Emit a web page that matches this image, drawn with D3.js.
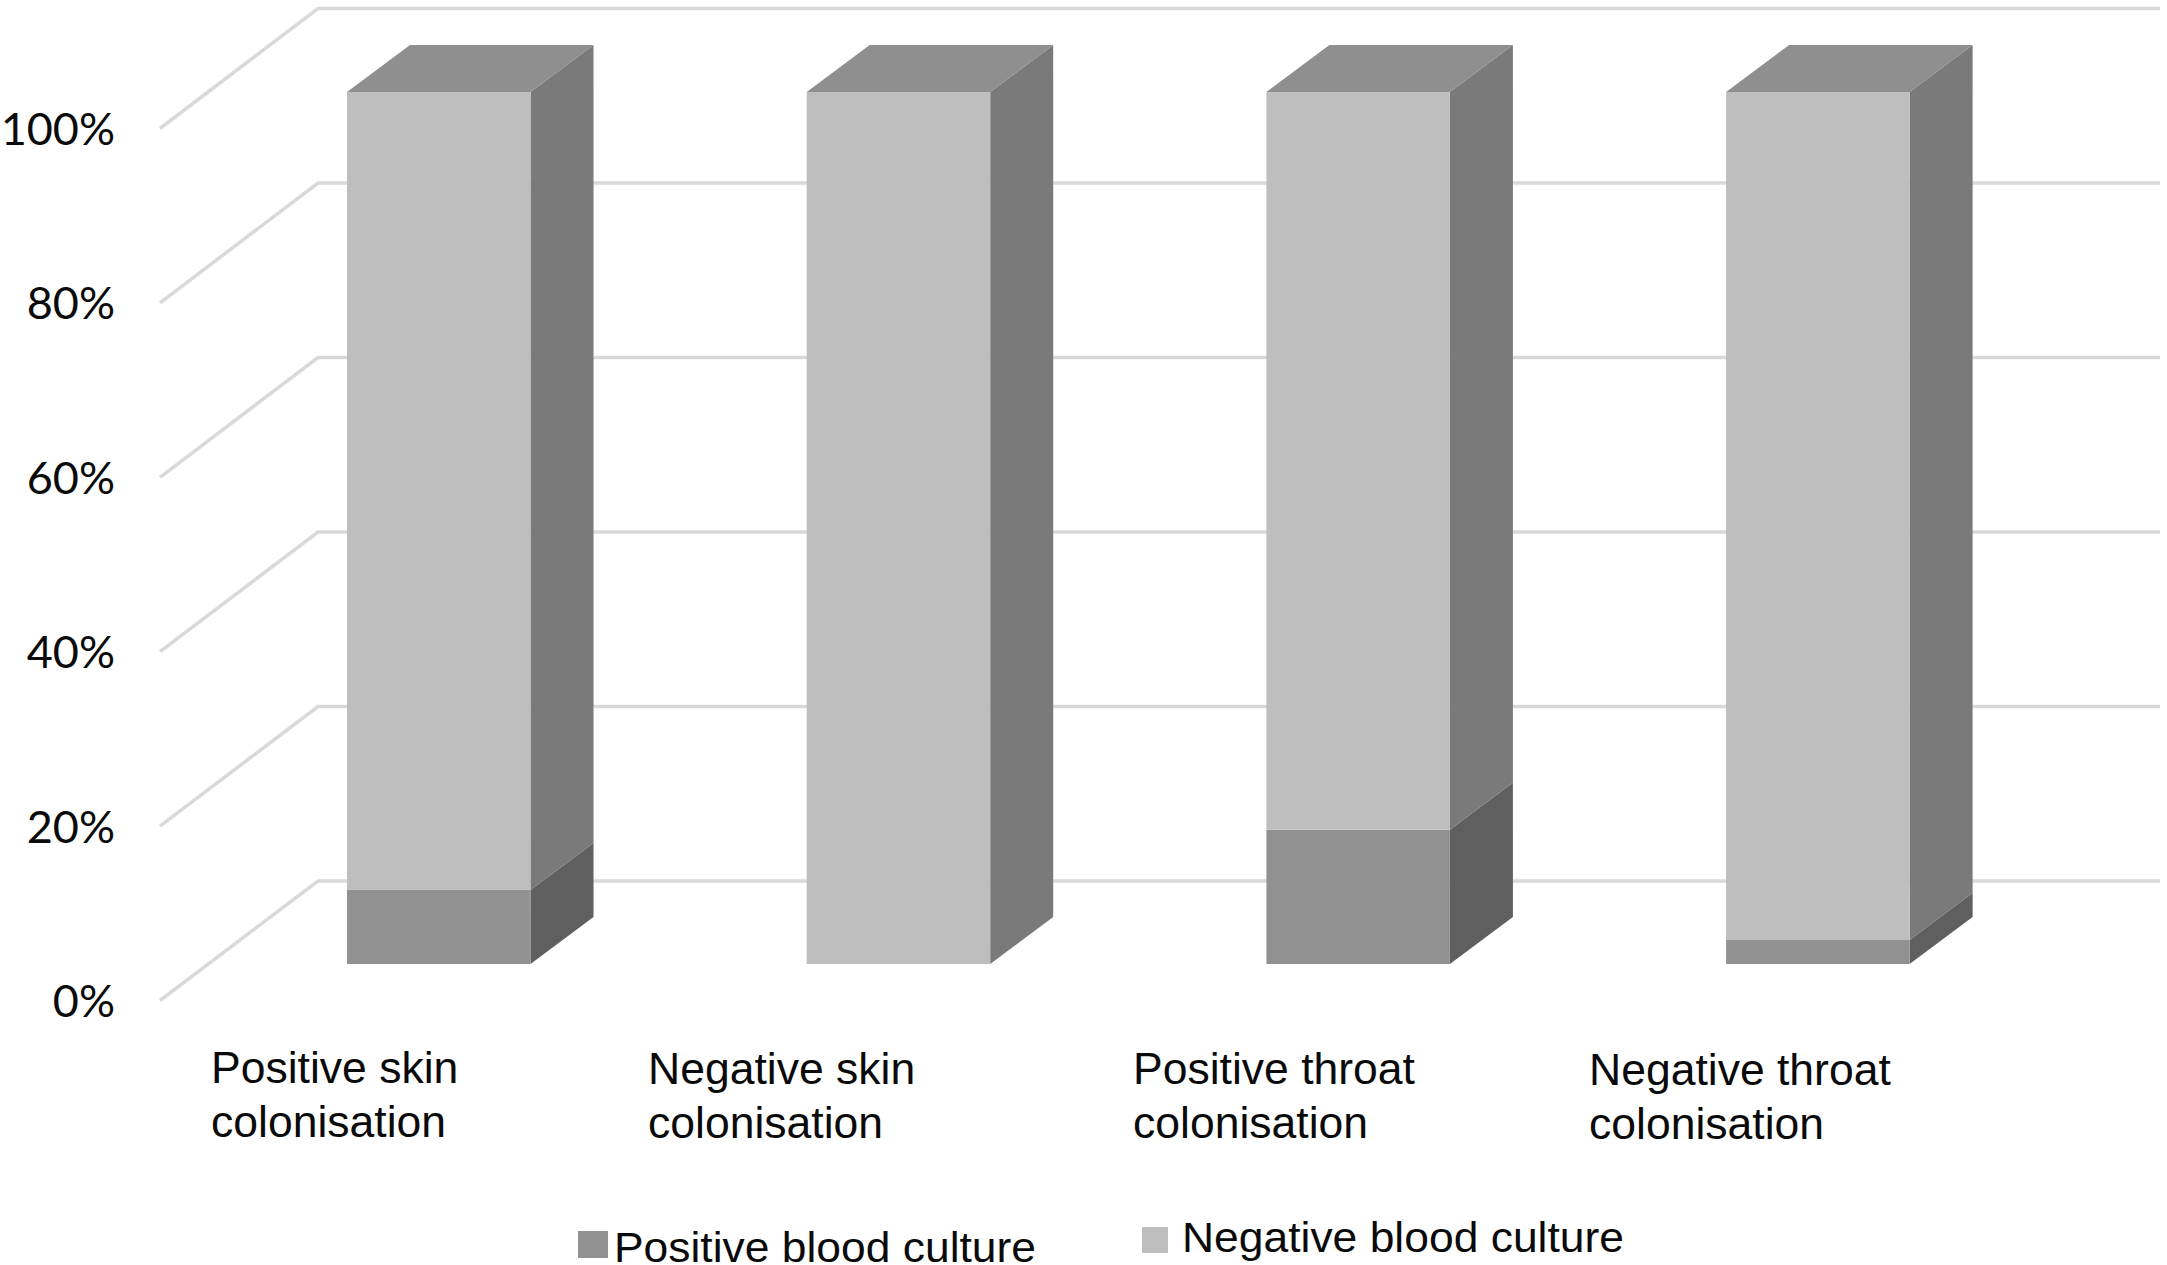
<!DOCTYPE html>
<html><head><meta charset="utf-8">
<script src="https://cdnjs.cloudflare.com/ajax/libs/d3/7.8.5/d3.min.js"></script>
<style>html,body{margin:0;padding:0;background:#fff}svg{display:block}</style></head>
<body><svg id="c" width="2167" height="1265"></svg>
<script>
const categories=["Positive skin colonisation","Negative skin colonisation","Positive throat colonisation","Negative throat colonisation"];
const positive=[8.5,0,15.4,2.75];
const negative=[91.5,100,84.6,97.25];
const ticks=[0,20,40,60,80,100];
const labelLines=[["Positive skin","colonisation"],["Negative skin","colonisation"],["Positive throat","colonisation"],["Negative throat","colonisation"]];
const labelX=[211,648,1133,1589], labelY=[1083,1084,1084,1085];
const W=2167,H=1265;
const svg=d3.select("#c");
svg.append("defs").append("filter").attr("id","soft").append("feGaussianBlur").attr("stdDeviation",0.7);
const root=svg.append("g").attr("filter","url(#soft)");
const depthX=63,depthY=47;
const y=d3.scaleLinear().domain([0,100]).range([964,92]);
const gridFront=d3.scaleLinear().domain([0,100]).range([1000.5,128.5]);
const gridBack=d3.scaleLinear().domain([0,100]).range([881,8.5]);
const x=d3.scaleBand().domain(categories).range([347,1909.6]).paddingInner(0.6008).paddingOuter(0);
const gridCol="#d9d9d9";
const grid=root.append("g");
ticks.forEach(t=>{
  grid.append("path").attr("fill","none").attr("stroke",gridCol).attr("stroke-width",3.5)
    .attr("d",d3.line()([[160,gridFront(t)],[318,gridBack(t)],[2160,gridBack(t)]]));
});
const seriesDefs=[
 {vals:positive,base:()=>0,front:"#919191",side:"#5e5e5e",top:"#7f7f7f"},
 {vals:negative,base:(i)=>positive[i],front:"#bebebe",side:"#7a7a7a",top:"#8f8f8f"}];
categories.forEach((c,i)=>{
  const g=root.append("g"), x0=x(c), x1=x0+x.bandwidth();
  seriesDefs.forEach(s=>{
    const v=s.vals[i]; if(v<=0) return;
    const b=s.base(i), yb=y(b), yt=y(b+v);
    g.append("path").attr("fill",s.side).attr("d",d3.line()([[x1,yb],[x1+depthX,yb-depthY],[x1+depthX,yt-depthY],[x1,yt]]));
    g.append("rect").attr("x",x0).attr("y",yt).attr("width",x.bandwidth()).attr("height",yb-yt).attr("fill",s.front);
    if(b+v>=100) g.append("path").attr("fill",s.top).attr("d",d3.line()([[x0,yt],[x0+depthX,yt-depthY],[x1+depthX,yt-depthY],[x1,yt]]));
  });
});
const tickFont='Lato, "Open Sans", sans-serif';
svg.append("g").selectAll("text").data(ticks).join("text")
  .attr("x",115).attr("y",d=>gridFront(d)+16.5).attr("text-anchor","end")
  .attr("font-family",tickFont).attr("font-size",45).attr("fill","#0a0a0a").text(d=>d+"%");
const sans='"Liberation Sans", Arial, sans-serif';
labelLines.forEach((ls,i)=>{
  ls.forEach((l,j)=>{
    svg.append("text").attr("x",labelX[i]).attr("y",labelY[i]+j*54).attr("font-family",sans).attr("font-size",44.5).attr("fill","#0a0a0a").text(l);
  });
});
const legendNames=["Positive blood culture","Negative blood culture"];
const legendCols=["#919191","#bebebe"];
const swatch=[[578,1231,30,27],[1142,1227,26,26]];
const legendText=[[614,1262,422],[1182,1252,442]];
legendNames.forEach((n,i)=>{
  svg.append("rect").attr("x",swatch[i][0]).attr("y",swatch[i][1]).attr("width",swatch[i][2]).attr("height",swatch[i][3]).attr("fill",legendCols[i]);
  svg.append("text").attr("x",legendText[i][0]).attr("y",legendText[i][1]).attr("font-family",sans).attr("font-size",42).attr("fill","#0a0a0a")
    .attr("textLength",legendText[i][2]).attr("lengthAdjust","spacingAndGlyphs").text(n);
});
</script></body></html>
